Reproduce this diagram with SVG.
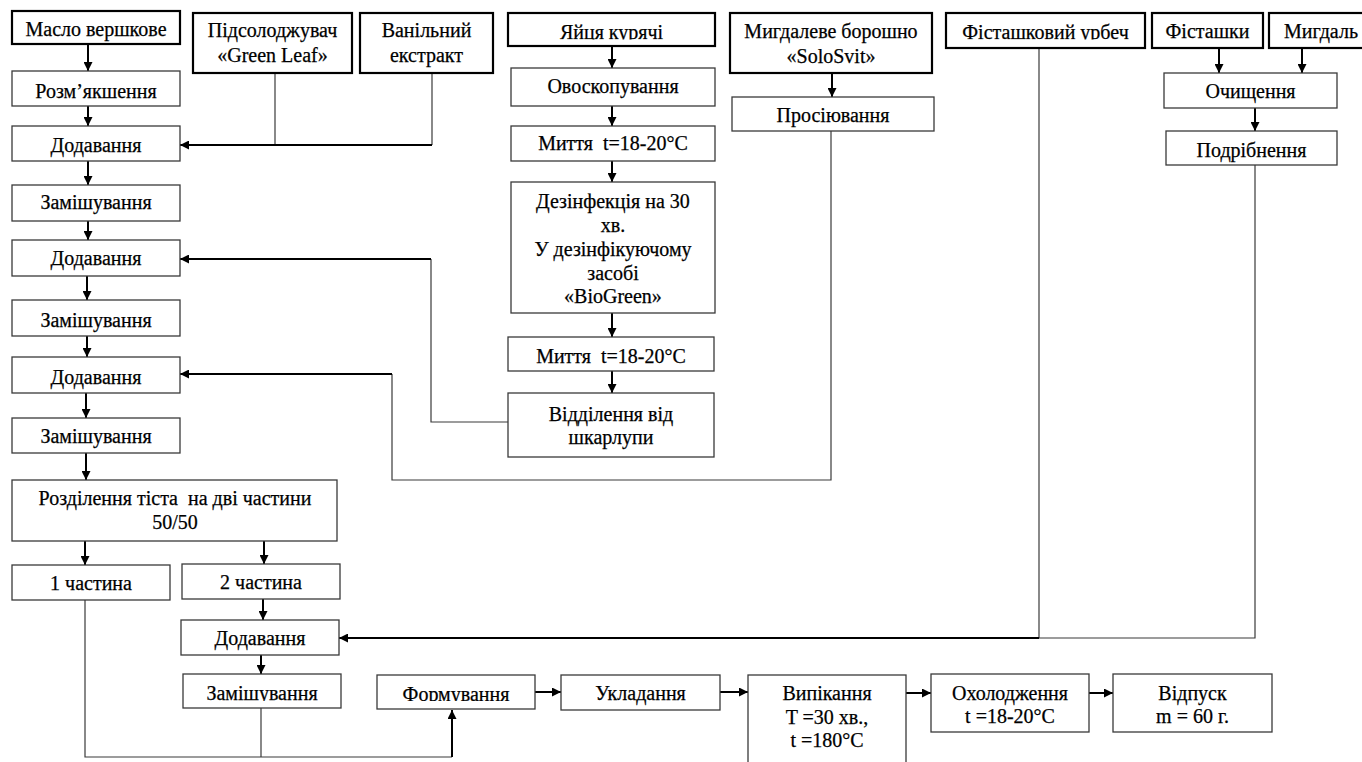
<svg xmlns="http://www.w3.org/2000/svg" width="1362" height="762" viewBox="0 0 1362 762" font-family="'Liberation Serif', 'Times New Roman', Times, 'DejaVu Serif', serif">
<defs>
<marker id="ah" viewBox="0 0 10 10" markerUnits="userSpaceOnUse" markerWidth="10" markerHeight="9" refX="10" refY="5" orient="auto">
<path d="M0,0 L10,5 L0,10 z" fill="#000"/>
</marker>
<clipPath id="clipTop"><rect x="0" y="0" width="1362" height="39.5"/></clipPath>
<clipPath id="clipBot"><rect x="0" y="600" width="1362" height="101"/></clipPath>
</defs>
<style>
.src{fill:#fff;stroke:#000;stroke-width:2.2}
.box{fill:#fff;stroke:#3a3a3a;stroke-width:1.3}
.t{font-family:'Liberation Serif', 'Times New Roman', Times, 'DejaVu Serif', serif;font-size:20px;fill:#000;stroke:#000;stroke-width:0.25;text-anchor:middle}
.arr{stroke:#000;stroke-width:2;fill:none;marker-end:url(#ah)}
.ln{stroke:#3a3a3a;stroke-width:1.2;fill:none}
</style>
<rect width="1362" height="762" fill="#fff"/>

<g id="connectors">
<path class="arr" d="M88,44 V71"/>
<path class="arr" d="M88,106 V126"/>
<path class="arr" d="M88,161 V185"/>
<path class="arr" d="M88,221 V240"/>
<path class="arr" d="M87,276 V300"/>
<path class="arr" d="M87,336 V357"/>
<path class="arr" d="M86,393 V418"/>
<path class="arr" d="M86,453 V480"/>
<path class="arr" d="M85,541 V565"/>
<path class="arr" d="M264,541 V564"/>
<path class="arr" d="M263,599 V620"/>
<path class="arr" d="M261,655 V674"/>
<path class="arr" d="M612,46 V68"/>
<path class="arr" d="M612,106 V126"/>
<path class="arr" d="M612,161 V182"/>
<path class="arr" d="M612,313 V337"/>
<path class="arr" d="M612,371 V393"/>
<path class="arr" d="M832,73 V97"/>
<path class="arr" d="M1219,48 V73"/>
<path class="arr" d="M1302,48 V73"/>
<path class="arr" d="M1255,108 V131"/>
<path class="ln" d="M275,73 V145"/>
<path class="ln" d="M432,73 V145"/>
<path class="arr" d="M432,145 H180"/>
<path class="ln" d="M508,422 H431 V259"/>
<path class="arr" d="M431,259 H180"/>
<path class="ln" d="M831,131 V480 H392 V374"/>
<path class="arr" d="M392,374 H180"/>
<path class="ln" d="M1039,48 V638"/>
<path class="ln" d="M1255,165 V638 H1039"/>
<path class="arr" d="M1039,638 H339"/>
<path class="ln" d="M85,600 V757 H452"/>
<path class="ln" d="M261,708 V757"/>
<path class="arr" d="M452,757 V710"/>
<path class="arr" d="M535,692 H561"/>
<path class="arr" d="M720,692 H748"/>
<path class="arr" d="M906,693 H931"/>
<path class="arr" d="M1089,693 H1113"/>
</g>

<g id="n-maslo"><rect class="src" x="12" y="11" width="168" height="33"/><text class="t" x="96" y="36">Масло вершкове</text></g>
<g id="n-pidsol"><rect class="src" x="193" y="13" width="159" height="60"/><text class="t" x="272.5" y="37">Підсолоджувач</text><text class="t" x="272.5" y="62">«Green Leaf»</text></g>
<g id="n-vanil"><rect class="src" x="360" y="13" width="133" height="60"/><text class="t" x="426.5" y="37">Ванільний</text><text class="t" x="426.5" y="62">екстракт</text></g>
<g id="n-yaytsia"><rect class="src" x="508" y="13" width="207" height="33"/><text class="t" x="611.5" y="39" clip-path="url(#clipTop)">Яйця курячі</text></g>
<g id="n-boroshno"><rect class="src" x="730" y="13" width="202" height="60"/><text class="t" x="831" y="38">Мигдалеве борошно</text><text class="t" x="831" y="63">«SoloSvit»</text></g>
<g id="n-urbech"><rect class="src" x="946" y="13" width="199" height="35"/><text class="t" x="1045.5" y="39" clip-path="url(#clipTop)">Фісташковий урбеч</text></g>
<g id="n-fist"><rect class="src" x="1152" y="13" width="111" height="35"/><text class="t" x="1207.5" y="38">Фісташки</text></g>
<g id="n-myhdal"><rect class="src" x="1269" y="13" width="110" height="35"/><text class="t" x="1321" y="38">Мигдаль</text></g>

<g id="n-rozm"><rect class="box" x="12" y="71" width="168" height="35"/><text class="t" x="96" y="98">Розм’якшення</text></g>
<g id="n-dod1"><rect class="box" x="12" y="126" width="168" height="35"/><text class="t" x="96" y="152">Додавання</text></g>
<g id="n-zam1"><rect class="box" x="12" y="185" width="168" height="36"/><text class="t" x="96" y="209">Замішування</text></g>
<g id="n-dod2"><rect class="box" x="12" y="240" width="168" height="36"/><text class="t" x="96" y="265">Додавання</text></g>
<g id="n-zam2"><rect class="box" x="12" y="300" width="168" height="36"/><text class="t" x="96" y="327">Замішування</text></g>
<g id="n-dod3"><rect class="box" x="12" y="357" width="168" height="36"/><text class="t" x="96" y="384">Додавання</text></g>
<g id="n-zam3"><rect class="box" x="12" y="418" width="168" height="35"/><text class="t" x="96" y="443">Замішування</text></g>
<g id="n-rozdil"><rect class="box" x="12" y="480" width="325" height="61"/><text class="t" x="175" y="505" xml:space="preserve">Розділення тіста  на дві частини</text><text class="t" x="175" y="529">50/50</text></g>
<g id="n-ch1"><rect class="box" x="12" y="565" width="158" height="35"/><text class="t" x="91" y="590">1 частина</text></g>
<g id="n-ch2"><rect class="box" x="182" y="564" width="158" height="35"/><text class="t" x="261" y="589">2 частина</text></g>
<g id="n-dod4"><rect class="box" x="181" y="620" width="158" height="35"/><text class="t" x="260" y="645">Додавання</text></g>
<g id="n-zam4"><rect class="box" x="183" y="674" width="158" height="34"/><text class="t" x="262" y="700" clip-path="url(#clipBot)">Замішування</text></g>
<g id="n-form"><rect class="box" x="377" y="675" width="158" height="34"/><text class="t" x="456" y="701" clip-path="url(#clipBot)">Формування</text></g>
<g id="n-uklad"><rect class="box" x="561" y="675" width="159" height="35"/><text class="t" x="640.5" y="700">Укладання</text></g>
<g id="n-vypik"><rect class="box" x="748" y="675" width="158" height="100"/><text class="t" x="827" y="700">Випікання</text><text class="t" x="827" y="724">T =30 хв.,</text><text class="t" x="827" y="747">t =180°C</text></g>
<g id="n-okhol"><rect class="box" x="931" y="674" width="158" height="58"/><text class="t" x="1010" y="700">Охолодження</text><text class="t" x="1010" y="723">t =18-20°C</text></g>
<g id="n-vidpusk"><rect class="box" x="1113" y="674" width="159" height="58"/><text class="t" x="1192.5" y="700">Відпуск</text><text class="t" x="1192.5" y="723">m = 60 г.</text></g>

<g id="n-ovosk"><rect class="box" x="511" y="68" width="204" height="38"/><text class="t" x="613" y="93">Овоскопування</text></g>
<g id="n-myttia1"><rect class="box" x="511" y="126" width="204" height="35"/><text class="t" x="613" y="150" xml:space="preserve">Миття  t=18-20°C</text></g>
<g id="n-dezinf"><rect class="box" x="511" y="182" width="204" height="131"/><text class="t" x="613" y="208">Дезінфекція на 30</text><text class="t" x="613" y="232">хв.</text><text class="t" x="613" y="256">У дезінфікуючому</text><text class="t" x="613" y="280">засобі</text><text class="t" x="613" y="303">«BioGreen»</text></g>
<g id="n-myttia2"><rect class="box" x="508" y="337" width="206" height="34"/><text class="t" x="611" y="363" xml:space="preserve">Миття  t=18-20°C</text></g>
<g id="n-viddil"><rect class="box" x="508" y="393" width="206" height="64"/><text class="t" x="611" y="421">Відділення від</text><text class="t" x="611" y="444">шкарлупи</text></g>
<g id="n-prosiy"><rect class="box" x="732" y="97" width="202" height="34"/><text class="t" x="833" y="122">Просіювання</text></g>
<g id="n-ochysch"><rect class="box" x="1164" y="73" width="173" height="35"/><text class="t" x="1250.5" y="98">Очищення</text></g>
<g id="n-podrib"><rect class="box" x="1166" y="131" width="171" height="34"/><text class="t" x="1251.5" y="157">Подрібнення</text></g>
</svg>
